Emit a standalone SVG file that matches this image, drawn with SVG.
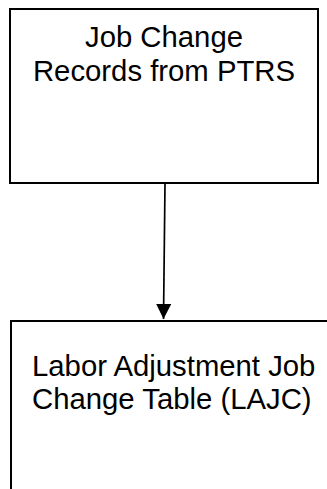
<svg xmlns="http://www.w3.org/2000/svg" width="327" height="489" viewBox="0 0 327 489">
<defs>
<style>
.box{fill:#fff;stroke:#000;stroke-width:2}
.lbl{font-family:"Liberation Sans",Arial,sans-serif;font-size:29.3px;fill:#000}
</style>
<marker id="ah" viewBox="0 0 15 15" refX="15" refY="7.5" markerWidth="15" markerHeight="15" markerUnits="userSpaceOnUse" orient="auto">
<path d="M0,0 L15,7.5 L0,15 Z" fill="#000"/>
</marker>
</defs>
<rect width="327" height="489" fill="#fff"/>
<g id="node-ptrs">
<rect class="box" x="10" y="9" width="308" height="174"/>
<text class="lbl" x="164" y="47" text-anchor="middle">Job Change</text>
<text class="lbl" x="164" y="81" text-anchor="middle">Records from PTRS</text>
</g>
<g id="node-lajc">
<rect class="box" x="11" y="321" width="340" height="200"/>
<text class="lbl" x="32" y="376">Labor Adjustment Job</text>
<text class="lbl" x="32" y="409">Change Table (LAJC)</text>
</g>
<g id="connectors">
<line x1="165" y1="184" x2="163.5" y2="319" stroke="#000" stroke-width="1.7" marker-end="url(#ah)"/>
</g>
</svg>
